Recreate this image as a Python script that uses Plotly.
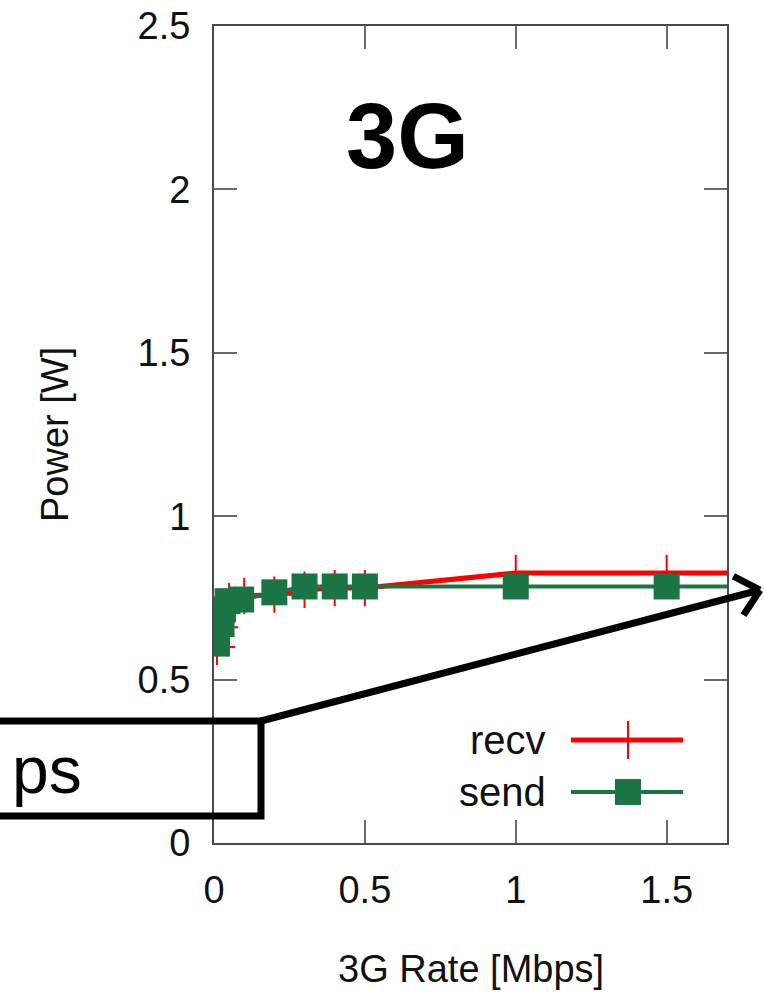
import plotly.graph_objects as go
import math

# ---- data ----
recv_x = [0.01, 0.02, 0.03, 0.05, 0.1, 0.2, 0.3, 0.4, 0.5, 1.0, 1.5, 2.0]
recv_y = [0.60, 0.66, 0.71, 0.74, 0.756, 0.76, 0.775, 0.78, 0.78, 0.826, 0.826, 0.826]
send_x = [0.01, 0.025, 0.03, 0.045, 0.09, 0.2, 0.3, 0.4, 0.5, 1.0, 1.5, 2.0]
send_y = [0.61, 0.67, 0.715, 0.74, 0.745, 0.767, 0.785, 0.785, 0.785, 0.785, 0.785, 0.785]
x_ticks = [0, 0.5, 1, 1.5]
x_ticklabels = ["0", "0.5", "1", "1.5"]
y_ticks = [0, 0.5, 1, 1.5, 2, 2.5]
y_ticklabels = ["0", "0.5", "1", "1.5", "2", "2.5"]
series_names = ["recv", "send"]
title_text = "3G"
callout_text = "ps"

# ---- layout geometry (pixels) ----
W, H = 764, 996
L, R, T, B = 214, 727, 26, 843
PW, PH = R - L, B - T

def px(x):
    return (x - L) / PW

def py(y):
    return (B - y) / PH

RED = "#ff0000"
GREEN = "#1b7444"
FONT = "Liberation Sans, Arial, sans-serif"
TXT = "#111111"

fig = go.Figure()
fig.add_trace(go.Scatter(
    x=recv_x, y=recv_y, mode="lines+markers", name=series_names[0],
    line=dict(color=RED, width=5),
    marker=dict(symbol="cross-thin", size=26, line=dict(color=RED, width=2), color=RED),
    showlegend=False))
fig.add_trace(go.Scatter(
    x=send_x, y=send_y, mode="lines+markers", name=series_names[1],
    line=dict(color=GREEN, width=4),
    marker=dict(symbol="square", size=26, color=GREEN, line=dict(width=0)),
    showlegend=False))

# legend samples on an overlay axis spanning the plot area
leg_y = [py(740), py(792)]
fig.add_trace(go.Scatter(x=[px(571), px(683)], y=[leg_y[0]] * 2, mode="lines",
                         line=dict(color=RED, width=5), xaxis="x2", yaxis="y2",
                         showlegend=False, hoverinfo="skip"))
fig.add_trace(go.Scatter(x=[px(628)], y=[leg_y[0]], mode="markers",
                         marker=dict(symbol="cross-thin", size=27, line=dict(color=RED, width=2)),
                         xaxis="x2", yaxis="y2", showlegend=False, hoverinfo="skip"))
fig.add_trace(go.Scatter(x=[px(571), px(683)], y=[leg_y[1]] * 2, mode="lines",
                         line=dict(color=GREEN, width=4), xaxis="x2", yaxis="y2",
                         showlegend=False, hoverinfo="skip"))
fig.add_trace(go.Scatter(x=[px(628)], y=[leg_y[1]], mode="markers",
                         marker=dict(symbol="square", size=26, color=GREEN, line=dict(width=0)),
                         xaxis="x2", yaxis="y2", showlegend=False, hoverinfo="skip"))

axis_common = dict(
    showline=True, linecolor="#4a4a4a", linewidth=2, mirror="allticks",
    ticks="inside", ticklen=23, tickwidth=1.5, tickcolor="#6a6a6a",
    showgrid=False, zeroline=False, automargin=False,
    tickfont=dict(family=FONT, size=38, color=TXT),
)

fig.update_layout(
    width=W, height=H,
    margin=dict(l=L, r=W - R, t=T, b=H - B),
    paper_bgcolor="white", plot_bgcolor="white",
    xaxis=dict(range=[0, 1.7], tickvals=x_ticks, ticktext=x_ticklabels,
               ticklabelstandoff=12, **axis_common),
    yaxis=dict(range=[0, 2.5], tickvals=y_ticks, ticktext=y_ticklabels,
               ticklabelstandoff=14, **axis_common),
    xaxis2=dict(range=[0, 1], overlaying="x", visible=False, fixedrange=True),
    yaxis2=dict(range=[0, 1], overlaying="y", visible=False, fixedrange=True),
    showlegend=False,
)

annotations = [
    dict(text="<b>" + title_text + "</b>", x=px(407), y=py(136), xref="paper", yref="paper",
         showarrow=False, font=dict(family=FONT, size=92, color="black"),
         xanchor="center", yanchor="middle"),
    dict(text="3G Rate [Mbps]", x=px(471), y=py(969), xref="paper", yref="paper",
         showarrow=False, font=dict(family=FONT, size=38, color=TXT),
         xanchor="center", yanchor="middle"),
    dict(text="Power [W]", x=px(55), y=py(435), xref="paper", yref="paper",
         showarrow=False, textangle=-90, font=dict(family=FONT, size=38, color=TXT),
         xanchor="center", yanchor="middle"),
    dict(text=series_names[0], x=px(548), y=py(740), xref="paper", yref="paper",
         showarrow=False, font=dict(family=FONT, size=40, color=TXT),
         xanchor="right", yanchor="middle"),
    dict(text=series_names[1], x=px(548), y=py(792), xref="paper", yref="paper",
         showarrow=False, font=dict(family=FONT, size=40, color=TXT),
         xanchor="right", yanchor="middle"),
    dict(text=callout_text, x=px(84), y=py(770), xref="paper", yref="paper",
         showarrow=False, font=dict(family=FONT, size=66, color="black"),
         xanchor="right", yanchor="middle"),
]
fig.update_layout(annotations=annotations)

shapes = []
# callout box (extends past the left edge of the picture)
shapes.append(dict(type="rect", xref="paper", yref="paper",
                   x0=px(-20), x1=px(261), y0=py(721), y1=py(816),
                   line=dict(color="black", width=7), fillcolor="rgba(255,255,255,0)",
                   layer="above"))
# arrow shaft
x0a, y0a, x1a, y1a = 261, 721, 760, 590
shapes.append(dict(type="line", xref="paper", yref="paper",
                   x0=px(x0a), y0=py(y0a), x1=px(x1a), y1=py(y1a),
                   line=dict(color="black", width=7), layer="above"))
# arrow head (open V)
dx, dy = x0a - x1a, y0a - y1a
ln = math.hypot(dx, dy)
ux, uy = dx / ln, dy / ln
for ang in (math.radians(42), math.radians(-42)):
    rx = ux * math.cos(ang) - uy * math.sin(ang)
    ry = ux * math.sin(ang) + uy * math.cos(ang)
    shapes.append(dict(type="line", xref="paper", yref="paper",
                       x0=px(x1a), y0=py(y1a), x1=px(x1a + 30 * rx), y1=py(y1a + 30 * ry),
                       line=dict(color="black", width=7), layer="above"))
fig.update_layout(shapes=shapes)

fig.write_html("out.html")
